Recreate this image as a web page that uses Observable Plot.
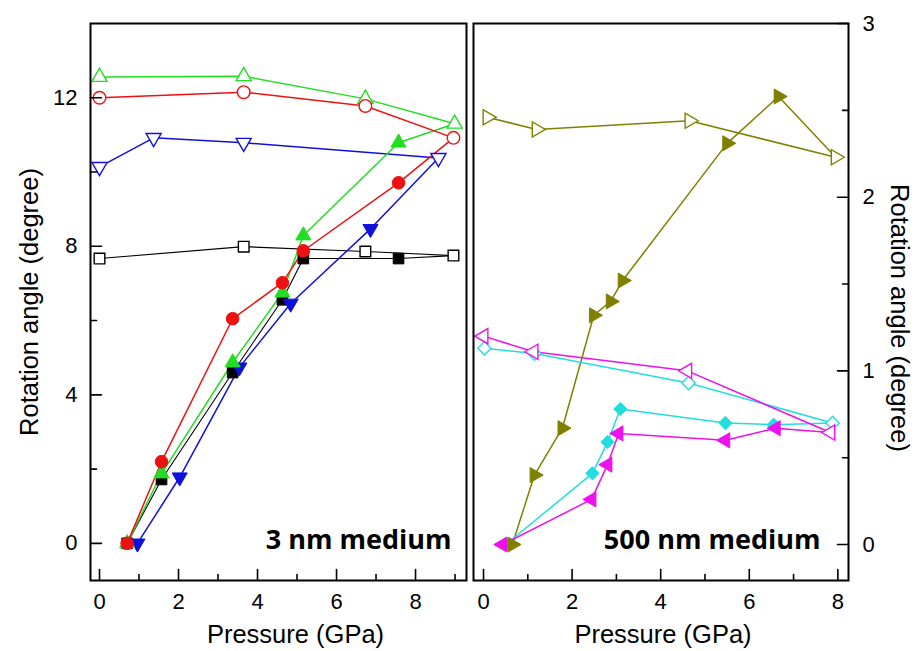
<!DOCTYPE html>
<html>
<head>
<meta charset="utf-8">
<script src="https://cdn.jsdelivr.net/npm/d3@7"></script>
<script src="https://cdn.jsdelivr.net/npm/@observablehq/plot@0.6"></script>
<style>
  html, body { margin: 0; padding: 0; background: #fff; }
  #wrap { position: relative; width: 915px; height: 651px; background: #fff; overflow: hidden; }
  #wrap > svg { position: absolute; top: 0; }
</style>
</head>
<body>
<div id="wrap"></div>
<script>
// ---------- Left panel: 3 nm medium ----------
const greenOpenP = [0, 3.65, 6.73, 8.99];
const greenOpenA = [12.56, 12.58, 11.97, 11.3];
const redOpenP = [0, 3.65, 6.73, 8.96];
const redOpenA = [12.0, 12.15, 11.78, 10.92];
const blueOpenP = [0, 1.37, 3.65, 8.58];
const blueOpenA = [10.14, 10.92, 10.79, 10.38];
const blackOpenP = [0, 3.65, 6.73, 8.96];
const blackOpenA = [7.67, 7.99, 7.86, 7.75];

const greenP = [0.7, 1.57, 3.37, 4.63, 5.16, 7.57];
const greenA = [0, 1.88, 4.87, 6.75, 8.29, 10.79];
const redP = [0.7, 1.57, 3.37, 4.63, 5.16, 7.57];
const redA = [0, 2.2, 6.05, 7.02, 7.88, 9.71];
const blackP = [0.7, 1.57, 3.37, 4.63, 5.16, 7.57];
const blackA = [0, 1.72, 4.6, 6.56, 7.67, 7.67];
const blueP = [0.96, 2.03, 3.54, 4.84, 6.86];
const blueA = [0, 1.78, 4.74, 6.46, 8.47];

// ---------- Right panel: 500 nm medium ----------
const oliveOpenP = [0.09, 1.2, 4.65, 7.95];
const oliveOpenA = [2.46, 2.39, 2.44, 2.23];
const oliveP = [0.65, 1.15, 1.78, 2.49, 2.87, 3.14, 5.5, 6.66];
const oliveA = [0, 0.40, 0.67, 1.32, 1.40, 1.52, 2.31, 2.58];
const magentaOpenP = [0, 1.13, 4.6, 7.83];
const magentaOpenA = [1.20, 1.11, 1.0, 0.645];
const cyanOpenP = [0.02, 1.15, 4.63, 7.88];
const cyanOpenA = [1.13, 1.1, 0.93, 0.70];
const cyanP = [0.5, 2.46, 2.8, 3.09, 5.46, 6.55];
const cyanA = [0, 0.41, 0.59, 0.78, 0.70, 0.69];
const magentaP = [0.43, 2.44, 2.8, 3.05, 5.46, 6.6];
const magentaA = [0, 0.26, 0.46, 0.64, 0.60, 0.67];

// ticks and labels
const leftXMajor = [0, 2, 4, 6, 8];
const leftXMinor = [1, 3, 5, 7, 9];
const leftYMajor = [0, 4, 8, 12];
const leftYMinor = [2, 6, 10];
const rightXMajor = [0, 2, 4, 6, 8];
const rightXMinor = [1, 3, 5, 7];
const rightYMajor = [0, 1, 2, 3];
const rightYMinor = [0.5, 1.5, 2.5];
const xTitle = "Pressure (GPa)";
const yTitle = "Rotation angle (degree)";
const leftLabel = "3 nm medium";
const rightLabel = "500 nm medium";

const C = {
  green: "#22dd22", red: "#ee1111", blue: "#1010dd", black: "#000000",
  olive: "#808000", cyan: "#22dddd", magenta: "#ee11ee"
};

const rows = (P, A) => P.map((p, i) => ({p, a: A[i]}));
// compression line continues to the first decompression (highest pressure) point
const withEnd = (P, A, OP, OA) => rows(P, A).concat([{p: OP[OP.length - 1], a: OA[OA.length - 1]}]);

const tickFont = {fontFamily: "'Liberation Sans', Arial, sans-serif", fontSize: "22px", color: "#000", background: "transparent", overflow: "visible"};

// simple line shape for inward tick marks
const tickShape = {draw(context, l) { context.moveTo(0, 0); context.lineTo(0, -l); }};
// inward ticks: rotate 0 = up (bottom axis), 90 = right (left axis), -90 = left (right axis)
function inwardTicksX(values, len) {
  return Plot.vector(values, {x: d => d, frameAnchor: "bottom", rotate: 0, length: len, anchor: "start", shape: tickShape, stroke: "#000", strokeWidth: 1.6});
}
function inwardTicksY(values, len, side) {
  return Plot.vector(values, {y: d => d, frameAnchor: side, rotate: side === "left" ? 90 : -90, length: len, anchor: "start", shape: tickShape, stroke: "#000", strokeWidth: 1.6});
}

function seriesMarks(filled, open, color, lineW = 1.5) {
  return [
    Plot.line(open, {x: "p", y: "a", stroke: color, strokeWidth: lineW}),
    Plot.line(filled, {x: "p", y: "a", stroke: color, strokeWidth: lineW})
  ];
}
function dotMarks(filledPts, openPts, color, symbol, rotate, r) {
  return [
    Plot.dot(openPts, {x: "p", y: "a", symbol, rotate, r, fill: "white", stroke: color, strokeWidth: 1.4}),
    Plot.dot(filledPts, {x: "p", y: "a", symbol, rotate, r, fill: color, stroke: color, strokeWidth: 1})
  ];
}

const fmt = d3.format("d");

const left = Plot.plot({
  width: 470, height: 651,
  marginLeft: 90, marginRight: 4, marginTop: 23, marginBottom: 71,
  style: tickFont,
  x: {domain: [-0.228, 9.29]},
  y: {domain: [-1, 14]},
  marks: [
    ...seriesMarks(withEnd(blackP, blackA, blackOpenP, blackOpenA), rows(blackOpenP, blackOpenA), C.black, 1.1),
    ...seriesMarks(withEnd(blueP, blueA, blueOpenP, blueOpenA), rows(blueOpenP, blueOpenA), C.blue),
    ...seriesMarks(withEnd(greenP, greenA, greenOpenP, greenOpenA), rows(greenOpenP, greenOpenA), C.green),
    ...seriesMarks(withEnd(redP, redA, redOpenP, redOpenA), rows(redOpenP, redOpenA), C.red),
    ...dotMarks(rows(blackP, blackA), rows(blackOpenP, blackOpenA), C.black, "square", 0, 6),
    ...dotMarks(rows(blueP, blueA), rows(blueOpenP, blueOpenA), C.blue, "triangle", 180, 5.6),
    ...dotMarks(rows(greenP, greenA), rows(greenOpenP, greenOpenA), C.green, "triangle", 0, 5.6),
    ...dotMarks(rows(redP, redA), rows(redOpenP, redOpenA), C.red, "circle", 0, 6.3),
    Plot.axisX(leftXMajor, {tickSize: 0, tickPadding: 13, label: null, tickFormat: fmt}),
    Plot.axisY(leftYMajor, {tickSize: 0, tickPadding: 13, label: null, tickFormat: fmt}),
    inwardTicksX(leftXMajor, 11),
    inwardTicksX(leftXMinor, 6),
    inwardTicksY(leftYMajor, 11, "left"),
    inwardTicksY(leftYMinor, 6, "left"),
    Plot.text([xTitle], {frameAnchor: "bottom", textAnchor: "middle", lineAnchor: "middle", dx: 17, dy: 54, fontSize: 25.5, fill: "#000"}),
    Plot.text([yTitle], {frameAnchor: "left", textAnchor: "middle", lineAnchor: "middle", rotate: -90, dx: -61, dy: 0, fontSize: 25.5, fill: "#000"}),
    Plot.text([leftLabel], {frameAnchor: "bottom-right", textAnchor: "end", lineAnchor: "middle", dx: -15, dy: -40, fontSize: 27, fontWeight: "bold", fontFamily: "'Open Sans', sans-serif", fill: "#000"}),
    Plot.frame({stroke: "#000", strokeWidth: 2})
  ]
});
left.style.left = "0px";

const right = Plot.plot({
  width: 445, height: 651,
  marginLeft: 3, marginRight: 67, marginTop: 23, marginBottom: 71,
  style: tickFont,
  x: {domain: [-0.226, 8.24]},
  y: {domain: [-0.207, 3]},
  marks: [
    ...seriesMarks(withEnd(oliveP, oliveA, oliveOpenP, oliveOpenA), rows(oliveOpenP, oliveOpenA), C.olive),
    ...seriesMarks(withEnd(cyanP, cyanA, cyanOpenP, cyanOpenA), rows(cyanOpenP, cyanOpenA), C.cyan),
    ...seriesMarks(withEnd(magentaP, magentaA, magentaOpenP, magentaOpenA), rows(magentaOpenP, magentaOpenA), C.magenta),
    ...dotMarks(rows(cyanP, cyanA), rows(cyanOpenP, cyanOpenA), C.cyan, "diamond2", 0, 6),
    ...dotMarks(rows(magentaP, magentaA), rows(magentaOpenP, magentaOpenA), C.magenta, "triangle", -90, 5.6),
    ...dotMarks(rows(oliveP, oliveA), rows(oliveOpenP, oliveOpenA), C.olive, "triangle", 90, 5.6),
    Plot.axisX(rightXMajor, {tickSize: 0, tickPadding: 13, label: null, tickFormat: fmt}),
    Plot.axisY(rightYMajor, {anchor: "right", tickSize: 0, tickPadding: 14, label: null, tickFormat: fmt}),
    inwardTicksX(rightXMajor, 11),
    inwardTicksX(rightXMinor, 6),
    inwardTicksY(rightYMajor, 11, "right"),
    inwardTicksY(rightYMinor, 6, "right"),
    Plot.text([xTitle], {frameAnchor: "bottom", textAnchor: "middle", lineAnchor: "middle", dx: 2, dy: 54, fontSize: 25.5, fill: "#000"}),
    Plot.text([yTitle], {frameAnchor: "right", textAnchor: "middle", lineAnchor: "middle", rotate: 90, dx: 51, dy: 16, fontSize: 25.5, fill: "#000"}),
    Plot.text([rightLabel], {frameAnchor: "bottom-right", textAnchor: "end", lineAnchor: "middle", dx: -28, dy: -40, fontSize: 27, fontWeight: "bold", fontFamily: "'Open Sans', sans-serif", fill: "#000"}),
    Plot.frame({stroke: "#000", strokeWidth: 2})
  ]
});
right.style.left = "470px";

const wrap = document.getElementById("wrap");
wrap.appendChild(left);
wrap.appendChild(right);
</script>
</body>
</html>
